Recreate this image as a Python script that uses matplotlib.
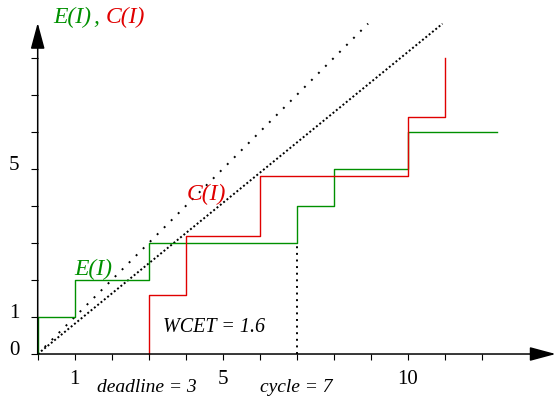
import matplotlib.pyplot as plt
from matplotlib.transforms import ScaledTranslation

plt.rcParams['font.family'] = 'Liberation Serif'

# E(I) staircase (green), step "post"
e_x = [0, 0, 1, 3, 7, 8, 10, 12.4]
e_y = [0, 1, 2, 3, 4, 5, 6, 6]

# C(I) staircase (red), WCET = 1.6 per step
c_x = [3, 3, 4, 6, 10, 11]
c_y = [0, 1.6, 3.2, 4.8, 6.4, 8.0]

# dotted reference lines through origin: (slope, end x, on, off)
ref_lines = [(1.0, 8.93, 1, 4.1), (0.816, 10.94, 1, 1.2)]

deadline = 3
cycle = 7
wcet = 1.6

x_ticks = list(range(0, 13))
x_labels = ['', '1', '', '', '', '5', '', '', '', '', '10', '', '']
y_ticks = list(range(0, 9))
y_labels = ['0', '1', '', '', '', '5', '', '', '']

green = '#009000'
red = '#e00000'

fig = plt.figure(figsize=(5.57, 3.99), dpi=100)
ax = fig.add_axes([0, 0, 1, 1])
ax.set_xlim(-1.019, 14.035)
ax.set_ylim(-1.216, 9.568)
ax.patch.set_visible(False)
for s in ['top', 'right']:
    ax.spines[s].set_visible(False)
ax.spines['left'].set_position(('data', 0))
ax.spines['bottom'].set_position(('data', 0))
ax.spines['left'].set_visible(False)
ax.spines['bottom'].set_visible(False)

# axes with arrow heads
arrow = dict(arrowstyle='-|>,head_length=16,head_width=4.3', color='black',
             lw=1.1, shrinkA=0, shrinkB=0, mutation_scale=1)
ax.annotate('', xy=(14.0, 0), xytext=(0, 0), arrowprops=arrow)
ax.annotate('', xy=(0, 8.95), xytext=(0, 0), arrowprops=arrow)

ax.set_xticks(x_ticks, x_labels, fontsize=15)
ax.set_yticks(y_ticks, y_labels, fontsize=15)
ax.tick_params(axis='x', direction='out', length=4.5, width=0.8, pad=7)
ax.tick_params(axis='y', direction='out', length=5, width=0.8, pad=8)
for lbl in ax.get_yticklabels():
    lbl.set_transform(lbl.get_transform() + ScaledTranslation(0, 4 / 72, fig.dpi_scale_trans))

# reference dotted lines
for slope, x_end, on, off in ref_lines:
    ax.plot([0, x_end], [0, slope * x_end], color='black', lw=1.4,
            linestyle=(0, (on, off)))

# cycle marker
ax.plot([cycle, cycle], [0, 3], color='black', lw=1.4, linestyle=(0, (1, 2.4)))

ax.step(e_x, e_y, where='post', color=green, lw=1.0)
ax.step(c_x, c_y, where='post', color=red, lw=1.0)

it = dict(style='italic', fontsize=17)
ax.text(0.41, 8.95, 'E(I)', color=green, va='baseline', **it)
ax.text(1.5, 8.95, ',', color=green, va='baseline', **it)
ax.text(1.85, 8.95, 'C(I)', color=red, va='baseline', **it)
ax.text(0.98, 2.14, 'E(I)', color=green, va='baseline', **it)
ax.text(4.03, 4.16, 'C(I)', color=red, va='baseline', **it)

ax.text(3.39, 0.6, f'WCET = {wcet}', va='baseline', style='italic', fontsize=14.5)
ax.text(1.6, -1.03, f'deadline = {deadline}', va='baseline', style='italic', fontsize=14)
ax.text(6.0, -1.03, f'cycle = {cycle}', va='baseline', style='italic', fontsize=14)

fig.savefig('out.png', dpi=100)
